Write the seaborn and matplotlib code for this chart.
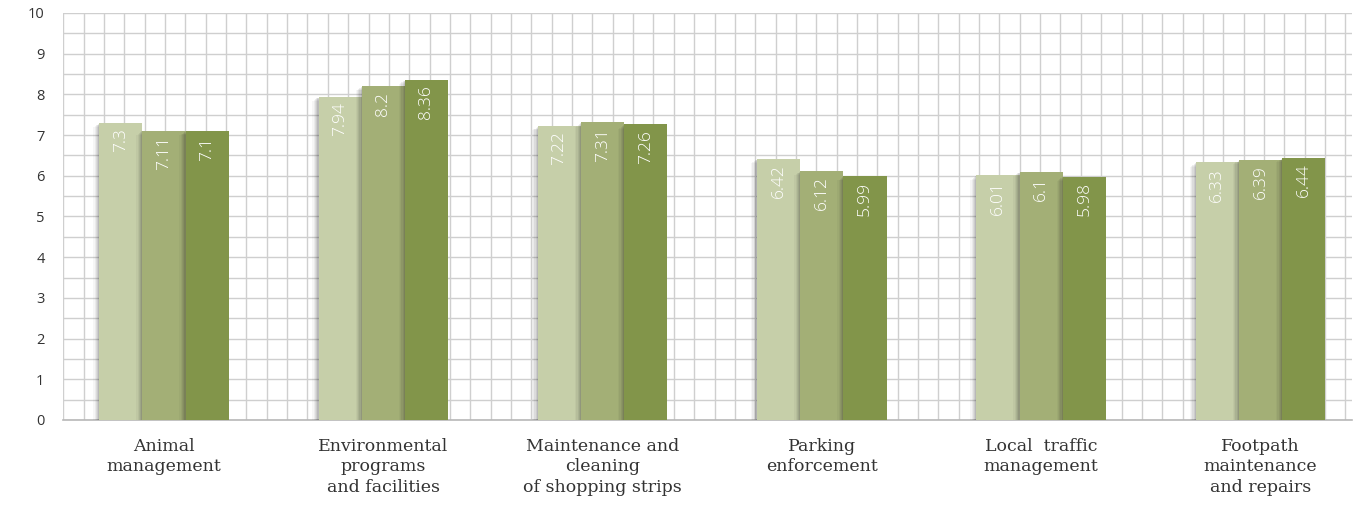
import numpy as np
import pandas as pd
import matplotlib
matplotlib.use("Agg")
import matplotlib.pyplot as plt
import matplotlib.patheffects as pe
from matplotlib.ticker import MultipleLocator
import seaborn as sns

# Service areas and satisfaction scores for three survey waves
categories = [
    "Animal\nmanagement",
    "Environmental\nprograms\nand facilities",
    "Maintenance and\ncleaning\nof shopping strips",
    "Parking\nenforcement",
    "Local  traffic\nmanagement",
    "Footpath\nmaintenance\nand repairs",
]
waves = ["Wave 1", "Wave 2", "Wave 3"]
wave1 = [7.3, 7.94, 7.22, 6.42, 6.01, 6.33]
wave2 = [7.11, 8.2, 7.31, 6.12, 6.1, 6.39]
wave3 = [7.1, 8.36, 7.26, 5.99, 5.98, 6.44]
y_ticks = list(range(0, 11))

palette = ["#c6cfa9", "#a3af76", "#82954a"]

df = pd.DataFrame({
    "area": categories * 3,
    "wave": np.repeat(waves, len(categories)),
    "score": wave1 + wave2 + wave3,
})

sns.set_theme(style="white")
plt.rcParams["font.family"] = ["Open Sans", "DejaVu Sans"]

fig = plt.figure(figsize=(13.7, 5.09), dpi=100)
ax = fig.add_axes([0.0462, 0.1749, 0.9404, 0.7996])

sns.barplot(data=df, x="area", y="score", hue="wave", order=categories,
            hue_order=waves, palette=palette, width=0.59, gap=0,
            saturation=1, legend=False, ax=ax, zorder=3)

# soft drop shadow cast to the lower left of every bar
shadow = [
    pe.SimplePatchShadow(offset=(-0.8, -0.6), shadow_rgbFace="k", alpha=0.10),
    pe.SimplePatchShadow(offset=(-1.6, -1.2), shadow_rgbFace="k", alpha=0.08),
    pe.SimplePatchShadow(offset=(-2.5, -1.8), shadow_rgbFace="k", alpha=0.07),
    pe.SimplePatchShadow(offset=(-3.4, -2.4), shadow_rgbFace="k", alpha=0.05),
    pe.SimplePatchShadow(offset=(-4.4, -3.0), shadow_rgbFace="k", alpha=0.04),
    pe.Normal(),
]
for bar in ax.patches:
    bar.set_path_effects(shadow)
    bar.set_edgecolor("none")
    bar.set_linewidth(0)

# value labels written upward inside the top of each bar
for container in ax.containers:
    for bar in container:
        h = bar.get_height()
        ax.annotate(f"{h:g}", (bar.get_x() + bar.get_width() / 2, h),
                    xytext=(0, -4), textcoords="offset points",
                    rotation=90, ha="center", va="top", color="white",
                    fontsize=12.5, fontweight="light", zorder=5)

ax.set_ylim(0, 10)
ax.set_xlim(-0.459, 5.416)
ax.set_yticks(y_ticks)
ax.yaxis.set_minor_locator(MultipleLocator(0.5))
ax.xaxis.set_minor_locator(MultipleLocator(0.0928, offset=-0.459))
ax.grid(True, which="both", axis="y", color="#cfcfcf", linewidth=1.0, zorder=0)
ax.grid(True, which="minor", axis="x", color="#cfcfcf", linewidth=1.0, zorder=0)
ax.grid(False, which="major", axis="x")
ax.set_axisbelow(True)

for side in ["top", "right", "left"]:
    ax.spines[side].set_visible(False)
ax.spines["bottom"].set_color("#b8b8b8")
ax.spines["bottom"].set_linewidth(1.2)

ax.tick_params(axis="y", which="both", length=0, pad=13.5, labelsize=10.5, labelcolor="#333333")
ax.tick_params(axis="x", which="both", length=0, pad=13)
ax.set_xticks(range(len(categories)))
ax.set_xticklabels(categories, family=["DejaVu Serif"], fontsize=12.5,
                   color="#333333", linespacing=1.25, va="top")
ax.set_xlabel("")
ax.set_ylabel("")

fig.savefig("out.png", dpi=100, facecolor="white")
